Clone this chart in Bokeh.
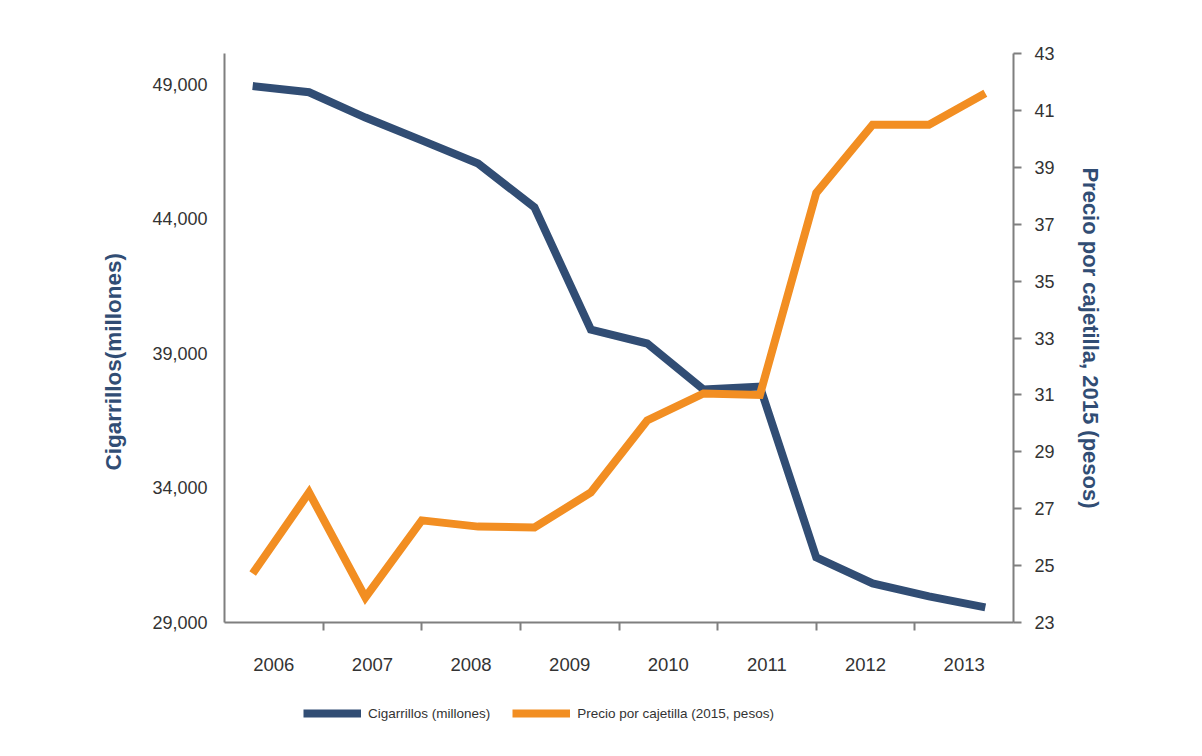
from bokeh.plotting import figure
from bokeh.layouts import column
from bokeh.models import (Range1d, LinearAxis, FixedTicker, Legend, LegendItem, Title,
                          ColumnDataSource, NumeralTickFormatter)
from bokeh.embed import file_html
from bokeh.resources import INLINE

# ---- data ----
years = ["2006", "2007", "2008", "2009", "2010", "2011", "2012", "2013"]
periods = list(range(14))  # fourteen observations spread across the eight years
cigarettes = [48940, 48710, 47770, 46920, 46060, 44430, 39890, 39370,
              37660, 37770, 31420, 30450, 29970, 29560]
price = [24.72, 27.57, 23.88, 26.59, 26.37, 26.34, 27.57, 30.1,
         31.05, 31.0, 38.1, 40.5, 40.5, 41.6]
left_ticks = [29000, 34000, 39000, 44000, 49000]
right_ticks = [23, 25, 27, 29, 31, 33, 35, 37, 39, 41, 43]
series_names = ["Cigarrillos (millones)", "Precio por cajetilla (2015, pesos)"]

BLUE = "#314D74"
ORANGE = "#F28E22"
AXIS = "#7F7F7F"
TXT = "#333333"
FONT = "Liberation Sans"

n_years = len(years)
xs = [(i + 0.5) * n_years / len(periods) for i in periods]
src = ColumnDataSource(dict(x=xs, cig=cigarettes, price=price))

p = figure(frame_width=789, frame_height=569, output_backend="svg", toolbar_location=None,
           x_range=Range1d(0, n_years), y_range=Range1d(29000, 50150),
           min_border_left=224, min_border_right=173, min_border_top=53,
           min_border_bottom=70)
p.outline_line_color = None
p.background_fill_color = "white"
p.border_fill_color = "white"
p.xgrid.visible = False
p.ygrid.visible = False
p.extra_y_ranges = {"price": Range1d(23, 43)}

# x axis
xa = p.xaxis[0]
year_pos = [i + 0.5 for i in range(n_years)]
xa.ticker = FixedTicker(ticks=year_pos, minor_ticks=list(range(1, n_years)))
xa.major_label_overrides = {pos: y for pos, y in zip(year_pos, years)}
xa.major_tick_out = 0
xa.major_tick_in = 0
xa.minor_tick_out = 8
xa.minor_tick_in = 0
xa.minor_tick_line_color = AXIS
xa.minor_tick_line_width = 2
xa.axis_line_color = AXIS
xa.axis_line_width = 2
xa.major_label_standoff = 27
xa.major_label_text_font = FONT
xa.major_label_text_font_size = "18.5px"
xa.major_label_text_color = TXT

# left axis
ya = p.yaxis[0]
ya.ticker = FixedTicker(ticks=left_ticks)
ya.formatter = NumeralTickFormatter(format="0,0")
ya.major_tick_out = 0
ya.major_tick_in = 0
ya.minor_tick_out = 0
ya.minor_tick_in = 0
ya.axis_line_color = AXIS
ya.axis_line_width = 2
ya.major_label_standoff = 17
ya.major_label_text_font = FONT
ya.major_label_text_font_size = "18px"
ya.major_label_text_color = TXT

# right axis
ra = LinearAxis(y_range_name="price", ticker=FixedTicker(ticks=right_ticks))
ra.major_tick_out = 8
ra.major_tick_in = 0
ra.minor_tick_out = 0
ra.minor_tick_in = 0
ra.major_tick_line_color = AXIS
ra.major_tick_line_width = 2
ra.axis_line_color = AXIS
ra.axis_line_width = 2
ra.major_label_standoff = 13
ra.major_label_text_font = FONT
ra.major_label_text_font_size = "18px"
ra.major_label_text_color = TXT
ra.axis_label = "Precio por cajetilla, 2015 (pesos)"
ra.axis_label_text_font = FONT
ra.axis_label_text_font_style = "bold"
ra.axis_label_text_font_size = "22px"
ra.axis_label_text_color = BLUE
ra.axis_label_standoff = 20
p.add_layout(ra, "right")

# left axis title
p.add_layout(Title(text="Cigarrillos(millones)", align="left", offset=152,
                   text_font=FONT, text_font_style="bold", text_font_size="22.5px",
                   text_color=BLUE, standoff=48), "left")

r1 = p.line("x", "cig", source=src, line_color=BLUE, line_width=8, line_join="miter")
r2 = p.line("x", "price", source=src, y_range_name="price", line_color=ORANGE,
            line_width=8, line_join="miter")

# legend strip below the chart (its lines lie outside this strip's view and are clipped)
lg = figure(frame_width=1186, frame_height=48, output_backend="svg", toolbar_location=None,
            x_range=Range1d(0, 1), y_range=Range1d(0, 1),
            min_border_left=0, min_border_right=0, min_border_top=0, min_border_bottom=0)
lg.axis.visible = False
lg.grid.visible = False
lg.outline_line_color = None
lg.background_fill_color = "white"
lg.border_fill_color = "white"
k1 = lg.line("x", "cig", source=src, line_color=BLUE, line_width=8)
k2 = lg.line("x", "price", source=src, line_color=ORANGE, line_width=8)

legend = Legend(items=[LegendItem(label=series_names[0], renderers=[k1]),
                       LegendItem(label=series_names[1], renderers=[k2])],
                orientation="horizontal", location=(303, 17),
                glyph_width=58, glyph_height=20, label_standoff=7, spacing=22,
                padding=0, margin=0, border_line_color=None, background_fill_alpha=0,
                label_text_font=FONT,
                label_text_font_size="13.5px", label_text_color=TXT)
lg.add_layout(legend, "center")

page = column(p, lg, spacing=0)
open("out.html", "w").write(file_html(page, INLINE))
